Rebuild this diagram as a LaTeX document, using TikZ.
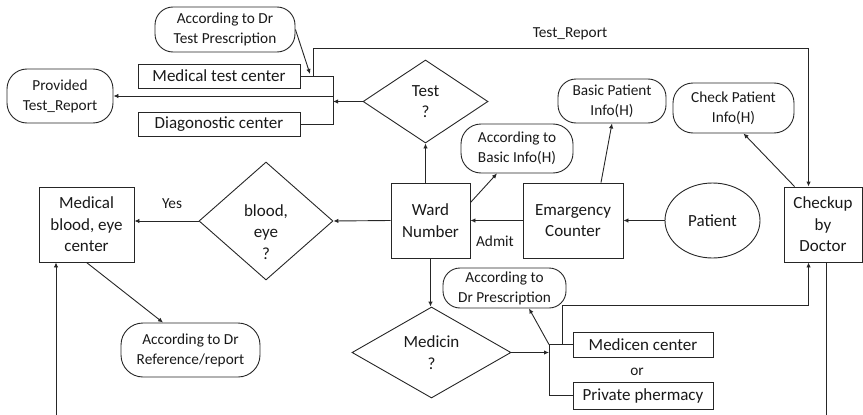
\documentclass[tikz,border=0pt]{standalone}
\usepackage{fontspec}
\setmainfont{Carlito}
\usetikzlibrary{shapes.geometric,arrows.meta}
\newcommand\bigf{\fontsize{17}{21.5}\selectfont}
\newcommand\smallf{\fontsize{15.3}{20}\selectfont}
\begin{document}
\begin{tikzpicture}[x=1pt,y=-1pt,
  line width=0.9pt,
  every node/.style={text=black!90},
  box/.style={draw=black!85, rectangle, inner sep=0pt, align=center, font=\bigf},
  bubble/.style={draw=black!85, rectangle, inner sep=0pt, align=center, font=\smallf},
  dia/.style={draw=black!85, diamond, inner sep=0pt, align=center, font=\bigf},
  lbl/.style={inner sep=0pt, font=\smallf},
  arr/.style={draw=black!85, -{Latex[length=5pt,width=4.5pt]}},
  ln/.style={draw=black!85}]
\useasboundingbox (0,0) rectangle (863,415);

% top-left group
\node[bubble, minimum width=140pt, minimum height=45pt, rounded corners=18pt] (testpres) at (225,29.5) {According to Dr\\Test Prescription};
\node[box, minimum width=162pt, minimum height=24pt] (medtest) at (219,76) {Medical test center};
\node[box, minimum width=162pt, minimum height=24pt] (diag) at (219,124) {Diagonostic center};
\node[bubble, minimum width=106pt, minimum height=54pt, rounded corners=20pt] (provided) at (60,96) {Provided\\Test\_Report};
\node[dia, minimum width=125pt, minimum height=83pt] (test) at (425.5,101.5) {Test\\?};
\node[lbl] (trlabel) at (570,34) {Test\_Report};

% top-right bubbles
\node[bubble, minimum width=108pt, minimum height=44pt, rounded corners=18pt] (basicpat) at (612,101) {Basic Patient\\Info(H)};
\node[bubble, minimum width=121pt, minimum height=50pt, rounded corners=20pt] (checkpat) at (733.5,108) {Check Patient\\Info(H)};
\node[bubble, minimum width=112pt, minimum height=49pt, rounded corners=20pt] (accbasic) at (517,148.5) {According to\\Basic Info(H)};

% middle row
\node[box, minimum width=79pt, minimum height=75pt] (ward) at (430.5,220.5) {Ward\\Number};
\node[box, minimum width=100pt, minimum height=75pt] (emerg) at (573,220.5) {Emargency\\Counter};
\node[draw=black!85, ellipse, inner sep=0pt, minimum width=95pt, minimum height=75pt, font=\bigf] (patient) at (712.5,220.5) {Patient};
\node[box, minimum width=78pt, minimum height=75pt] (checkup) at (823,224.5) {Checkup\\by\\Doctor};
\node[dia, minimum width=134pt, minimum height=118pt] (bloodeye) at (266,221) {};
\node[inner sep=0pt, align=center, font=\bigf] (bloodeyetxt) at (266,232) {blood,\\eye\\?};
\node[box, minimum width=95pt, minimum height=75pt] (medblood) at (86.5,224.5) {Medical\\blood, eye\\center};
\node[lbl] (admit) at (495,241) {Admit};
\node[lbl] (yes) at (172,204) {Yes};

% bottom
\node[bubble, minimum width=139pt, minimum height=54pt, rounded corners=22pt] (accref) at (190.5,350) {According to Dr\\Reference/report};
\node[dia, minimum width=159pt, minimum height=91pt] (medicin) at (431.5,352.5) {Medicin\\?};
\node[bubble, minimum width=123pt, minimum height=40pt, rounded corners=17pt] (accpres) at (504.5,288) {According to\\Dr Prescription};
\node[box, minimum width=140pt, minimum height=25pt] (medcen) at (643,344.5) {Medicen center};
\node[box, minimum width=140pt, minimum height=27pt] (priv) at (643,395.5) {Private phermacy};
\node[lbl] (or) at (637,372) {or};

% coordinates
\coordinate (b1) at (333,76);
\coordinate (b2) at (333,124);
\coordinate (bm) at (333,96);
\coordinate (tr) at (313,76);
\coordinate (tpj) at (310,74);
\coordinate (m1) at (549,344.5);
\coordinate (m2) at (549,395.5);
\coordinate (m3) at (562,344.5);
\coordinate (bot1) at (56,415);
\coordinate (bot2) at (826,415);

% test bracket
\draw[ln] (medtest.east) -- (b1) -- (b2) -- (diag.east);
\draw[arr] (test.west) -- (test.west -| b1);
\draw[arr] (bm) -- (bm -| provided.east);
\draw[arr] (testpres.east) -- (tpj);
\draw[arr] (tr) -- ++(0,-27.5) -| ([xshift=25pt]checkup.north west);

% middle connections
\draw[arr] (test.south |- ward.north) -- (test.south);
\draw[arr] ([yshift=-20pt]ward.north east) -- ([xshift=-20pt]accbasic.south);
\draw[arr] ([xshift=28pt]emerg.north) -- (basicpat.south);
\draw[arr] ([xshift=11pt]checkup.north west) -- ([xshift=10pt]checkpat.south);
\draw[arr] (patient.west) -- (emerg.east);
\draw[arr] (emerg.west) -- (ward.east);
\draw[arr] (ward.west) -- (bloodeye.east);
\draw[arr] (bloodeye.west) -- (bloodeye.west -| medblood.east);
\draw[arr] (medblood.south) -- ([xshift=-27.5pt]accref.north);
\draw[arr] (bot1) -- (bot1 |- medblood.south);

% medicine
\draw[arr] (ward.south) -- (ward.south |- medicin.north);
\draw[arr] (medicin.east) -- (medicin.east -| m1);
\draw[ln] (medcen.west) -- (m1) -- (m2) -- (priv.west);
\draw[arr] (m1) -- ([xshift=24.5pt]accpres.south);
\draw[arr] (m3) -- ++(0,-39.5) -| ([xshift=25pt]checkup.south west);
\draw[ln] (checkup.south -| bot2) -- (bot2);
\end{tikzpicture}
\end{document}
